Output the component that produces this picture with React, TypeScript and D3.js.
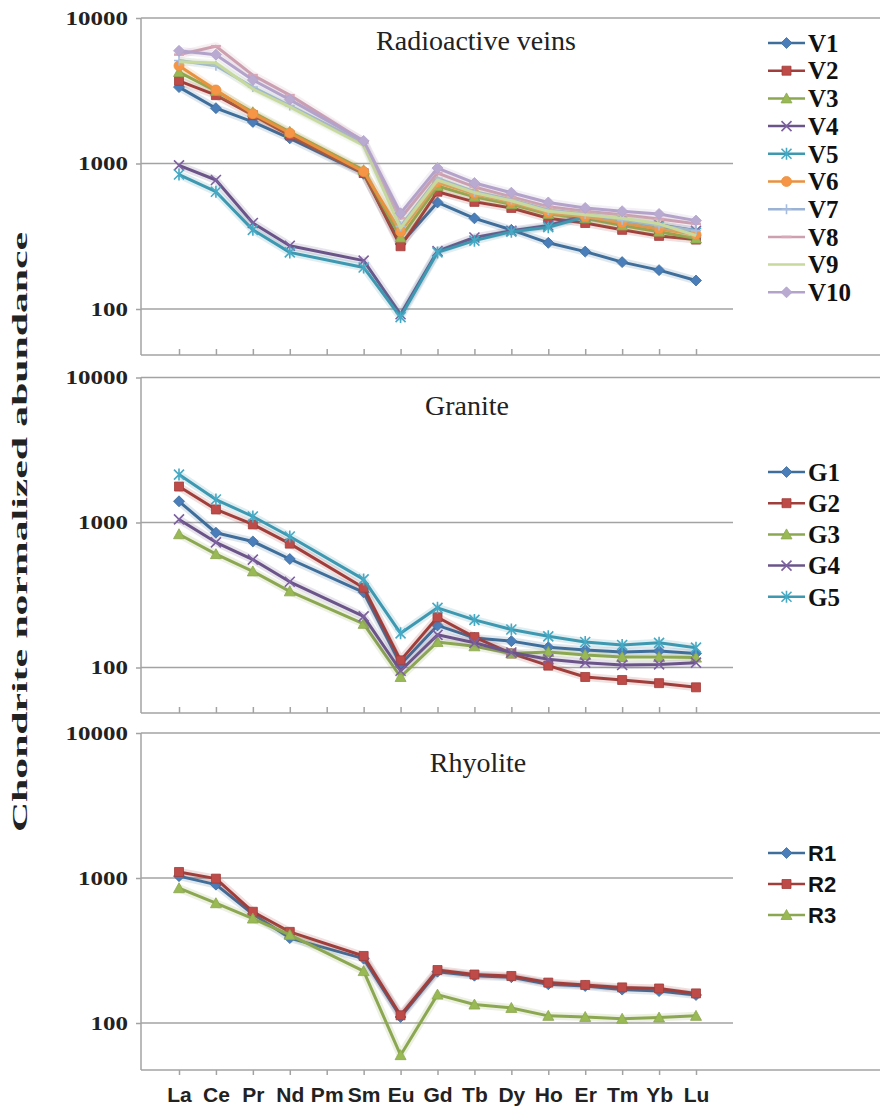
import React, { useEffect, useRef } from "react";
import * as d3 from "d3";

// REE elements on the x axis (Pm has no data)
const elements = ["La", "Ce", "Pr", "Nd", "Pm", "Sm", "Eu", "Gd", "Tb", "Dy", "Ho", "Er", "Tm", "Yb", "Lu"];
const yTickValues = [100, 1000, 10000];

// Radioactive veins
const veinNames = ["V1", "V2", "V3", "V4", "V5", "V6", "V7", "V8", "V9", "V10"];
const V1 = [3350, 2400, 1930, 1490, null, 850, 280, 540, 420, 350, 285, 248, 210, 185, 157];
const V2 = [3700, 2950, 2150, 1560, null, 860, 270, 640, 545, 495, 420, 390, 350, 318, 300];
const V3 = [4250, 3150, 2250, 1650, null, 900, 310, 700, 590, 525, 450, 420, 375, 340, 305];
const V4 = [970, 770, 390, 272, null, 215, 92, 250, 310, 345, 375, 440, 410, 380, 345];
const V5 = [840, 640, 350, 245, null, 193, 88, 245, 295, 340, 365, 430, 400, 370, 335];
const V6 = [4700, 3200, 2200, 1620, null, 880, 340, 740, 620, 545, 460, 430, 390, 355, 325];
const V7 = [5100, 4700, 3350, 2500, null, 1380, 370, 790, 640, 565, 480, 450, 410, 375, 345];
const V8 = [5600, 6400, 4050, 2950, null, 1420, 420, 860, 690, 590, 505, 470, 445, 415, 385];
const V9 = [5000, 4900, 3250, 2450, null, 1330, 360, 770, 630, 555, 470, 445, 420, 385, 320];
const V10 = [5950, 5600, 3750, 2750, null, 1430, 455, 930, 735, 630, 540, 495, 470, 450, 405];

// Granite
const graniteNames = ["G1", "G2", "G3", "G4", "G5"];
const G1 = [1400, 850, 740, 560, null, 330, 105, 195, 160, 152, 138, 132, 128, 130, 125];
const G2 = [1770, 1230, 970, 715, null, 355, 112, 222, 162, 125, 103, 86, 82, 78, 73];
const G3 = [830, 605, 460, 335, null, 200, 86, 150, 140, 125, 128, 122, 118, 118, 117];
const G4 = [1050, 730, 555, 390, null, 225, 95, 168, 148, 127, 114, 108, 104, 105, 108];
const G5 = [2140, 1440, 1100, 800, null, 405, 172, 258, 213, 183, 164, 150, 143, 148, 137];

// Rhyolite
const rhyoliteNames = ["R1", "R2", "R3"];
const R1 = [1030, 900, 565, 385, null, 278, 110, 226, 212, 207, 185, 180, 170, 166, 156];
const R2 = [1100, 990, 585, 425, null, 290, 113, 232, 216, 211, 190, 183, 176, 173, 160];
const R3 = [850, 670, 525, 405, null, 228, 60, 157, 134, 127, 112, 110, 107, 109, 112];

const lineColors = ["#3f6e9a", "#a03e3b", "#8ca751", "#6b5488", "#3d98b0", "#e8923f", "#9ab2d4", "#cda0b0", "#c8d99e", "#b3a3ca"];
const markerColors = ["#4a7ebb", "#be4b48", "#98b954", "#7d60a0", "#46aac5", "#f69546", "#a7bde0", "#d9a8b8", "#c8d99e", "#b9aad2"];
const markerTypes = ["diamond", "square", "triangle", "x", "asterisk", "circle", "plus", "dash", "none", "diamond"];

const serif = "'Liberation Serif', 'Times New Roman', serif";
const sans = "'Liberation Sans', Arial, sans-serif";

const panels = [
  { title: "Radioactive veins", names: veinNames, data: [V1, V2, V3, V4, V5, V6, V7, V8, V9, V10],
    y100: 309, decade: 145.5, bottom: 355, titleX: 476, titleY: 50,
    legendY: 43, legendStep: 27.7, legendFont: serif, legendSize: 25, labels: false },
  { title: "Granite", names: graniteNames, data: [G1, G2, G3, G4, G5],
    y100: 667.5, decade: 145, bottom: 713, titleX: 467, titleY: 415,
    legendY: 472, legendStep: 31.2, legendFont: serif, legendSize: 25, labels: false },
  { title: "Rhyolite", names: rhyoliteNames, data: [R1, R2, R3],
    y100: 1023, decade: 145, bottom: 1070, titleX: 478, titleY: 772,
    legendY: 853, legendStep: 31, legendFont: sans, legendSize: 22, labels: true },
];

const axisX = 141;
const gridRight = 733;
const frameRight = 880;
const gray = "#a3a3a3";

function markerPath(type: string) {
  switch (type) {
    case "diamond": return "M0,-5.5L5.5,0L0,5.5L-5.5,0Z";
    case "square": return "M-4.5,-4.5h9v9h-9Z";
    case "triangle": return "M0,-5.5L5.5,4.5L-5.5,4.5Z";
    case "circle": return "M-5,0a5,5 0 1,0 10,0a5,5 0 1,0 -10,0";
    case "x": return "M-5,-5L5,5M5,-5L-5,5";
    case "asterisk": return "M-5,-5L5,5M5,-5L-5,5M0,-6V6";
    case "plus": return "M-5,0H5M0,-5V5";
    case "dash": return "M-5,0H5";
    default: return "";
  }
}
const filled = (t: string) => ["diamond", "square", "triangle", "circle"].includes(t);

function drawMarker(g: any, type: string, i: number, x: number, y: number) {
  const p = markerPath(type);
  if (!p) return;
  const m = g.append("path").attr("d", p).attr("transform", `translate(${x},${y})`);
  if (filled(type)) m.attr("fill", markerColors[i]).attr("stroke", lineColors[i]).attr("stroke-width", 0.8);
  else m.attr("fill", "none").attr("stroke", markerColors[i]).attr("stroke-width", type === "dash" ? 2.5 : 1.6);
}

export default function App() {
  const svgRef = useRef<SVGSVGElement>(null);

  useEffect(() => {
    const svg = d3.select(svgRef.current);
    svg.selectAll("*").remove();

    const x = d3.scalePoint<string>().domain(elements).range([179, 696]);

    panels.forEach(p => {
      const y = d3.scaleLog().domain([100, 10000]).range([p.y100, p.y100 - 2 * p.decade]);
      const top = y(10000);
      const g = svg.append("g");

      // gridlines
      [100, 1000].forEach(v => {
        g.append("line").attr("x1", axisX).attr("x2", gridRight)
          .attr("y1", y(v)).attr("y2", y(v)).attr("stroke", gray).attr("stroke-width", 1.5);
      });
      g.append("line").attr("x1", axisX).attr("x2", frameRight)
        .attr("y1", top).attr("y2", top).attr("stroke", gray).attr("stroke-width", 1.5);
      g.append("line").attr("x1", axisX).attr("x2", frameRight)
        .attr("y1", p.bottom).attr("y2", p.bottom).attr("stroke", gray).attr("stroke-width", 1.5);
      g.append("line").attr("x1", axisX).attr("x2", axisX)
        .attr("y1", top).attr("y2", p.bottom).attr("stroke", gray).attr("stroke-width", 1.5);

      // y axis
      const ya = g.append("g").attr("transform", `translate(${axisX},0)`)
        .call(d3.axisLeft(y).tickValues(yTickValues).tickFormat(d3.format("d")).tickSize(5).tickPadding(8));
      ya.select(".domain").remove();
      ya.selectAll("line").attr("stroke", gray).attr("stroke-width", 1.5);
      ya.selectAll("text")
        .attr("font-family", serif).attr("font-weight", "bold").attr("font-size", 19)
        .attr("fill", "#222")
        .attr("textLength", (d: any) => String(d).length * 12.5)
        .attr("lengthAdjust", "spacingAndGlyphs");

      // x axis
      const xa = g.append("g").attr("transform", `translate(0,${p.bottom})`)
        .call(d3.axisBottom(x).tickSize(p.labels ? 5 : -6).tickPadding(12)
          .tickFormat(p.labels ? (d: string) => d : () => ""));
      xa.select(".domain").remove();
      xa.selectAll("line").attr("stroke", gray).attr("stroke-width", 1.5);
      xa.selectAll("text").attr("font-family", sans).attr("font-weight", "bold")
        .attr("font-size", 21).attr("fill", "#222");

      // title
      g.append("text").attr("x", p.titleX).attr("y", p.titleY).attr("text-anchor", "middle")
        .attr("font-family", serif).attr("font-size", 28).attr("fill", "#222").text(p.title);

      // series
      const line = d3.line<[string, number]>().x(d => x(d[0]) as number).y(d => y(d[1]));
      p.data.forEach((vals, i) => {
        const pts = elements.map((e, k) => [e, vals[k]] as [string, number | null])
          .filter(d => d[1] != null) as [string, number][];
        g.append("path").attr("d", line(pts)).attr("fill", "none")
          .attr("stroke", lineColors[i]).attr("stroke-opacity", 0.16).attr("stroke-width", 8)
          .attr("stroke-linejoin", "round");
        g.append("path").attr("d", line(pts)).attr("fill", "none")
          .attr("stroke", lineColors[i]).attr("stroke-width", 3).attr("stroke-linejoin", "round");
        pts.forEach(d => drawMarker(g, markerTypes[i], i, x(d[0]) as number, y(d[1])));
      });

      // legend
      p.names.forEach((name, i) => {
        const ly = p.legendY + i * p.legendStep;
        g.append("line").attr("x1", 768).attr("x2", 805).attr("y1", ly).attr("y2", ly)
          .attr("stroke", lineColors[i]).attr("stroke-width", 2.5);
        drawMarker(g, markerTypes[i], i, 786.5, ly);
        g.append("text").attr("x", 808).attr("y", ly).attr("dy", "0.35em")
          .attr("font-family", p.legendFont).attr("font-weight", "bold")
          .attr("font-size", p.legendSize).attr("fill", "#111").text(name);
      });
    });

    // shared y axis title
    svg.append("text")
      .attr("transform", "translate(27,532) rotate(-90)")
      .attr("text-anchor", "middle")
      .attr("font-family", serif).attr("font-weight", "bold").attr("font-size", 21)
      .attr("fill", "#222")
      .attr("textLength", 600).attr("lengthAdjust", "spacingAndGlyphs")
      .text("Chondrite normalized abundance");
  }, []);

  return (
    <svg ref={svgRef} width={885} height={1110}
      style={{ position: "absolute", left: 0, top: 0, background: "#fff" }} />
  );
}
